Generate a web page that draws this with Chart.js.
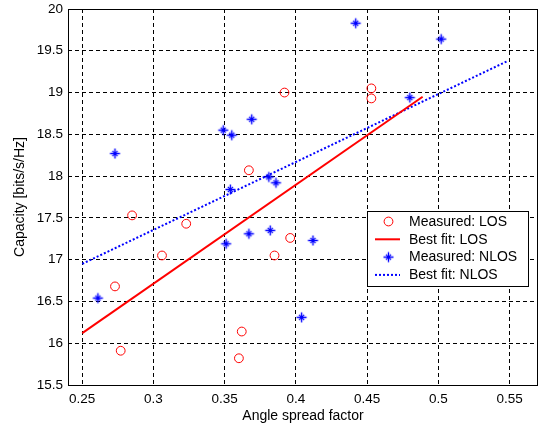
<!DOCTYPE html>
<html>
<head>
<meta charset="utf-8">
<script src="https://cdn.jsdelivr.net/npm/chart.js@4/dist/chart.umd.min.js"></script>
<style>
  html, body { margin: 0; padding: 0; background: #fff; }
  canvas { display: block; }
</style>
</head>
<body>
<canvas id="chart" width="545" height="428"></canvas>
<script>
// Measured capacity, line-of-sight
const losX = [0.273, 0.277, 0.285, 0.306, 0.323, 0.367, 0.392, 0.396, 0.385, 0.362, 0.360, 0.453, 0.453];
const losY = [16.68, 15.91, 17.53, 17.05, 17.43, 18.07, 19.00, 17.26, 17.05, 16.14, 15.82, 19.05, 18.93];

// Measured capacity, non-line-of-sight
const nlosX = [0.273, 0.261, 0.349, 0.355, 0.369, 0.354, 0.381, 0.386, 0.351, 0.367, 0.382, 0.412, 0.404, 0.442, 0.502, 0.480];
const nlosY = [18.27, 16.54, 18.55, 18.49, 18.68, 17.84, 17.99, 17.92, 17.19, 17.31, 17.35, 17.23, 16.31, 19.83, 19.64, 18.94];

// Least-squares fit end points
const losFitX = [0.25, 0.489];
const losFitY = [16.12, 18.95];
const nlosFitX = [0.25, 0.549];
const nlosFitY = [16.95, 19.38];

const seriesLabels = ['Measured: LOS', 'Best fit: LOS', 'Measured: NLOS', 'Best fit: NLOS'];

const xTicks = [0.25, 0.3, 0.35, 0.4, 0.45, 0.5, 0.55];
const xTickLabels = ['0.25', '0.3', '0.35', '0.4', '0.45', '0.5', '0.55'];
const yTicks = [15.5, 16, 16.5, 17, 17.5, 18, 18.5, 19, 19.5, 20];
const yTickLabels = ['15.5', '16', '16.5', '17', '17.5', '18', '18.5', '19', '19.5', '20'];

const toPoints = (xs, ys) => xs.map((x, i) => ({ x: x, y: ys[i] }));

const FONT = 'Arial, "Liberation Sans", sans-serif';
const RED = '#ff0000';
const BLUE = '#0000ff';

// Asterisk marker: long plus arms with a short diagonal cross in the middle
function makeStar(color) {
  const c = document.createElement('canvas');
  c.width = 13; c.height = 13;
  const g = c.getContext('2d');
  const m = 6.5;
  g.strokeStyle = color;
  g.lineWidth = 1.4;
  g.beginPath();
  g.moveTo(m - 5, m); g.lineTo(m + 5, m);
  g.moveTo(m, m - 5); g.lineTo(m, m + 5);
  g.stroke();
  g.lineWidth = 1.2;
  g.beginPath();
  g.moveTo(m - 2.6, m - 2.6); g.lineTo(m + 2.6, m + 2.6);
  g.moveTo(m - 2.6, m + 2.6); g.lineTo(m + 2.6, m - 2.6);
  g.stroke();
  g.fillStyle = color;
  g.fillRect(m - 1.5, m - 1.5, 3, 3);
  return c;
}
const starMarker = makeStar(BLUE);

// Axes box drawn on all four sides
const framePlugin = {
  id: 'frame',
  beforeDatasetsDraw(chart) {
    const { ctx, chartArea: a } = chart;
    ctx.save();
    ctx.setLineDash([]);
    ctx.strokeStyle = '#000';
    ctx.lineWidth = 1;
    ctx.strokeRect(Math.round(a.left) + 0.5, Math.round(a.top) + 0.5,
                   Math.round(a.right - a.left) - 1, Math.round(a.bottom - a.top));
    ctx.restore();
  }
};

// Boxed legend in the lower right of the plot area
const legendPlugin = {
  id: 'boxLegend',
  afterDraw(chart) {
    const { ctx, chartArea: a } = chart;
    const right = a.right - 10;
    const left = right - 161;
    const top = a.top + 202;
    const rowH = 17.8;
    const bottom = top + 75;
    ctx.save();
    ctx.fillStyle = '#fff';
    ctx.fillRect(left, top, right - left, bottom - top);
    ctx.setLineDash([]);
    ctx.strokeStyle = '#000';
    ctx.lineWidth = 1;
    ctx.strokeRect(Math.round(left) + 0.5, Math.round(top) + 0.5, Math.round(right - left), Math.round(bottom - top));

    const symX = left + 21.5;
    const textX = left + 42;
    ctx.font = '14px ' + FONT;
    ctx.textBaseline = 'middle';
    ctx.textAlign = 'left';
    chart.data.datasets.forEach((ds, i) => {
      const y = top + 10.5 + i * rowH;
      ctx.save();
      ctx.strokeStyle = ds.borderColor;
      if (ds.showLine) {
        ctx.lineWidth = ds.borderWidth;
        ctx.setLineDash(ds.borderDash || []);
        ctx.beginPath();
        ctx.moveTo(symX - 13.5, y);
        ctx.lineTo(symX + 11.5, y);
        ctx.stroke();
      } else if (ds.pointStyle === 'circle') {
        ctx.lineWidth = ds.pointBorderWidth;
        ctx.beginPath();
        ctx.arc(symX, y, ds.pointRadius, 0, Math.PI * 2);
        ctx.stroke();
      } else {
        const img = ds.pointStyle;
        ctx.drawImage(img, symX - img.width / 2, y - img.height / 2);
      }
      ctx.restore();
      ctx.fillStyle = '#000';
      ctx.fillText(ds.label, textX, y + 0.5);
    });
    ctx.restore();
  }
};

const borderOpts = { display: false, dash: [4, 3] };

new Chart(document.getElementById('chart'), {
  type: 'scatter',
  data: {
    datasets: [
      {
        label: seriesLabels[0],
        data: toPoints(losX, losY),
        showLine: false,
        pointStyle: 'circle',
        pointRadius: 4.4,
        pointBorderWidth: 1,
        borderColor: RED,
        backgroundColor: 'rgba(0,0,0,0)',
        pointBackgroundColor: 'rgba(0,0,0,0)'
      },
      {
        label: seriesLabels[1],
        data: toPoints(losFitX, losFitY),
        showLine: true,
        pointRadius: 0,
        borderColor: RED,
        borderWidth: 2,
        backgroundColor: RED
      },
      {
        label: seriesLabels[2],
        data: toPoints(nlosX, nlosY),
        showLine: false,
        pointStyle: starMarker,
        pointRadius: 5,
        borderColor: BLUE,
        backgroundColor: BLUE
      },
      {
        label: seriesLabels[3],
        data: toPoints(nlosFitX, nlosFitY),
        showLine: true,
        pointRadius: 0,
        borderColor: BLUE,
        borderWidth: 2,
        borderDash: [2, 2],
        backgroundColor: BLUE
      }
    ]
  },
  options: {
    responsive: false,
    animation: false,
    devicePixelRatio: 1,
    layout: { padding: { top: 9, right: 7, left: 0, bottom: 0 } },
    plugins: {
      legend: { display: false },
      tooltip: { enabled: false }
    },
    scales: {
      x: {
        type: 'linear',
        min: 0.24,
        max: 0.57,
        afterBuildTicks: s => { s.ticks = xTicks.map(v => ({ value: v })); },
        afterFit: s => { s.height = 43; },
        grid: { color: '#000', lineWidth: 1, drawTicks: false },
        border: borderOpts,
        ticks: {
          autoSkip: false,
          maxRotation: 0,
          padding: 6,
          color: '#000',
          font: { family: FONT, size: 13.5 },
          callback: (v, i) => xTickLabels[i]
        },
        title: {
          display: true,
          text: 'Angle spread factor',
          color: '#000',
          font: { family: FONT, size: 14 },
          padding: { top: 0, bottom: 3.5 }
        }
      },
      y: {
        type: 'linear',
        min: 15.5,
        max: 20,
        afterBuildTicks: s => { s.ticks = yTicks.map(v => ({ value: v })); },
        afterFit: s => { s.width = 68; },
        grid: { color: '#000', lineWidth: 1, drawTicks: true, tickLength: 5, tickColor: 'rgba(0,0,0,0)' },
        border: borderOpts,
        ticks: {
          autoSkip: false,
          padding: 0,
          color: '#000',
          font: { family: FONT, size: 13.5 },
          callback: (v, i) => yTickLabels[i]
        },
        title: {
          display: true,
          text: 'Capacity [bits/s/Hz]',
          color: '#000',
          font: { family: FONT, size: 14 },
          padding: { top: 12, bottom: 0 }
        }
      }
    }
  },
  plugins: [framePlugin, legendPlugin]
});
</script>
</body>
</html>
